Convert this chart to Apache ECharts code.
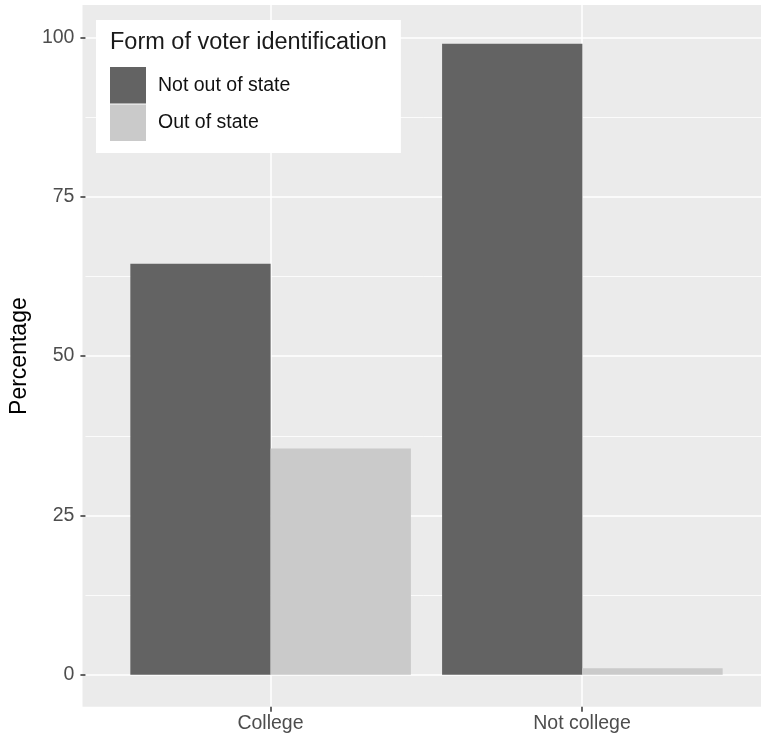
<!DOCTYPE html>
<html>
<head>
<meta charset="utf-8">
<script src="https://cdn.jsdelivr.net/npm/echarts@6/dist/echarts.min.js"></script>
<style>
html,body{margin:0;padding:0;background:#fff;}
#c{width:761px;height:740px;}
</style>
</head>
<body>
<div id="c"></div>
<script>
// Data
var categories = ['College', 'Not college'];
var seriesNames = ['Not out of state', 'Out of state'];
var notOutOfState = [64.5, 99.0];
var outOfState = [35.5, 1.0];
var yTicks = [0, 25, 50, 75, 100];
var legendTitle = 'Form of voter identification';
var yTitle = 'Percentage';

var FONT = 'Liberation Sans, Arial, sans-serif';
var chart = echarts.init(document.getElementById('c'), null, {renderer: 'canvas'});

var option = {
  animation: false,
  backgroundColor: '#ffffff',
  title: {
    text: legendTitle,
    left: 96, top: 20,
    padding: [9, 14, 97, 14],
    backgroundColor: '#ffffff',
    z: 3,
    textStyle: {fontFamily: FONT, fontSize: 23.5, fontWeight: 'normal', color: '#1a1a1a', lineHeight: 27}
  },
  legend: {
    data: seriesNames,
    orient: 'vertical',
    left: 110, top: 67,
    padding: 0,
    itemWidth: 36, itemHeight: 36.5, itemGap: 1,
    icon: 'rect',
    z: 4,
    selectedMode: false,
    textStyle: {fontFamily: FONT, fontSize: 19.5, color: '#111111', padding: [0, 0, 0, 7]}
  },
  grid: [
    {left: 82.5, width: 700, top: 5, bottom: 33.3, show: true, backgroundColor: '#EBEBEB', borderWidth: 0},
    {left: 82.5, width: 700, top: 37.5, bottom: 65.3},
    {left: 114.75, width: 623.5, top: 37.5, bottom: 65.3},
    {left: 270.5, width: 311.5, top: 5, bottom: 33.3}
  ],
  xAxis: [
    {gridIndex: 0, type: 'value', show: false, min: 0, max: 1},
    {gridIndex: 1, type: 'value', show: false, min: 0, max: 1},
    {gridIndex: 2, type: 'category', data: categories, show: false, boundaryGap: true},
    {gridIndex: 3, type: 'category', data: categories, boundaryGap: false,
      axisLine: {show: false},
      axisTick: {show: true, length: 5, alignWithLabel: true, lineStyle: {color: '#333333', width: 1.5}},
      axisLabel: {margin: 7, color: '#4D4D4D', fontFamily: FONT, fontSize: 19.5},
      splitLine: {show: true, lineStyle: {color: '#ffffff', width: 1.5}}
    }
  ],
  yAxis: [
    {gridIndex: 0, type: 'value', show: false, min: 0, max: 1},
    {gridIndex: 1, type: 'value', min: 0, max: 100, interval: 25,
      name: yTitle, nameLocation: 'middle', nameRotate: 90, nameGap: 45,
      nameTextStyle: {fontFamily: FONT, fontSize: 23, color: '#000000'},
      axisLine: {show: false},
      axisTick: {show: true, length: 5, lineStyle: {color: '#333333', width: 1.5}},
      axisLabel: {margin: 11, color: '#4D4D4D', fontFamily: FONT, fontSize: 19.5,
        formatter: function (v) { return yTicks.indexOf(v) >= 0 ? String(v) : ''; }},
      splitLine: {show: true, lineStyle: {color: '#ffffff', width: 1.5}},
      minorTick: {show: false, splitNumber: 2},
      minorSplitLine: {show: true, lineStyle: {color: '#ffffff', width: 0.8}}
    },
    {gridIndex: 2, type: 'value', show: false, min: 0, max: 100},
    {gridIndex: 3, type: 'value', show: false, min: 0, max: 1}
  ],
  series: [
    {name: seriesNames[0], type: 'bar', xAxisIndex: 2, yAxisIndex: 2, data: notOutOfState,
      barWidth: '45%', barGap: '0%', itemStyle: {color: '#636363'}},
    {name: seriesNames[1], type: 'bar', xAxisIndex: 2, yAxisIndex: 2, data: outOfState,
      barWidth: '45%', barGap: '0%', itemStyle: {color: '#CACACA'}}
  ]
};
chart.setOption(option);
</script>
</body>
</html>
